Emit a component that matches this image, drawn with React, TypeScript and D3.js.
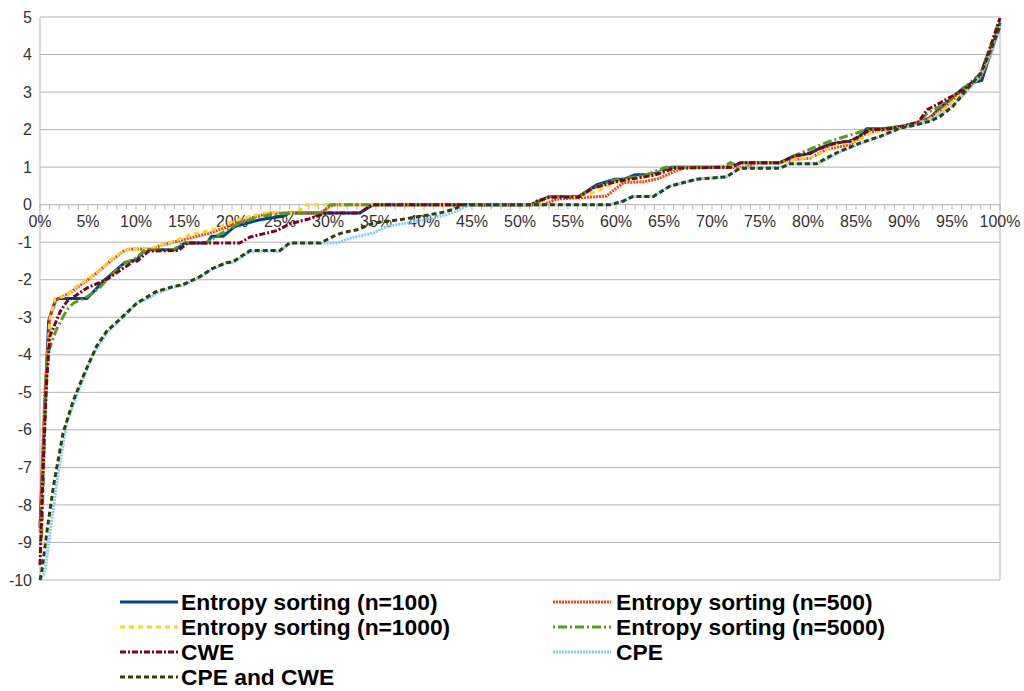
import * as React from "react";
import * as d3 from "d3";

// Percentile (x, %) and score (y)
const entropy100: [number, number][] = [
    [0, -8.6], [0.5, -5.5], [0.9, -3.1], [1.6, -2.55], [1.9, -2.5], [4.9, -2.5], [6.6, -2.04], [8.85, -1.54],
    [10.1, -1.46], [10.9, -1.2], [14.1, -1.2], [15.1, -1.02], [17.4, -1.02], [17.9, -0.84], [19.1, -0.84],
    [20.3, -0.58], [22.9, -0.4], [25.3, -0.31], [26, -0.22], [33.3, -0.22], [34.7, 0], [51.2, 0], [53.1, 0.22],
    [56.1, 0.22], [58, 0.53], [59.9, 0.68], [60.9, 0.68], [62, 0.8], [63.2, 0.8], [64.2, 0.84], [65.8, 1.0],
    [72, 1.0], [73, 1.12], [77.1, 1.12], [78.5, 1.29], [80.2, 1.36], [81.25, 1.51], [82.6, 1.63], [84.4, 1.69],
    [85.4, 1.82], [86.1, 2.02], [87.8, 2.02], [89.9, 2.09], [91.3, 2.18], [92.7, 2.31], [93.75, 2.58],
    [94.8, 2.8], [96.2, 3.11], [97.2, 3.26], [98.1, 3.31], [99, 4.04], [100, 4.85]
];

const entropy500: [number, number][] = [
    [0, -8.7], [0.5, -5.0], [1.04, -2.98], [1.7, -2.53], [3.1, -2.35], [4.5, -2.09], [5.9, -1.82], [7.3, -1.51],
    [8.7, -1.24], [9.4, -1.18], [11.5, -1.18], [12.8, -1.07], [14.2, -0.98], [15.6, -0.89], [17.7, -0.76],
    [19.8, -0.56], [21.9, -0.36], [24, -0.22], [29.2, -0.22], [29.9, -0.09], [30.6, 0], [52.5, 0], [53.8, 0.15],
    [56, 0.18], [59, 0.23], [60.8, 0.59], [62.9, 0.61], [64.5, 0.7], [66, 0.88], [67.4, 1.0], [73.5, 1.0],
    [74.7, 1.12], [77.1, 1.12], [78.5, 1.2], [80.2, 1.24], [81.9, 1.47], [84.4, 1.6], [86.1, 1.91], [88, 2.0],
    [90, 2.08], [92.5, 2.3], [94, 2.55], [96, 3.0], [98, 3.4], [99, 4.0], [100, 4.75]
];

const entropy1000: [number, number][] = [
    [0, -9.3], [0.5, -5.8], [1.0, -3.1], [1.56, -2.49], [2.5, -2.45], [3.8, -2.18], [4.9, -2.0], [6.25, -1.73],
    [7.6, -1.42], [8.85, -1.22], [9.4, -1.18], [11.5, -1.18], [12.8, -1.07], [14.2, -0.95], [15.6, -0.8],
    [18, -0.67], [20.1, -0.44], [21.9, -0.31], [23.6, -0.22], [26.7, -0.22], [27.8, 0], [52, 0], [53.1, 0.2],
    [56.1, 0.2], [58, 0.35], [60, 0.6], [62, 0.7], [64, 0.8], [66, 0.97], [72, 1.0], [73, 1.12], [77.1, 1.12],
    [78.5, 1.2], [80.9, 1.3], [82.6, 1.57], [85.4, 1.73], [86.5, 1.91], [88.5, 2.0], [90, 2.08], [92.5, 2.25],
    [94, 2.5], [96, 2.95], [98, 3.45], [99, 4.1], [100, 4.75]
];

const entropy5000: [number, number][] = [
    [0, -9.0], [0.17, -8.9], [0.7, -4.04], [1.7, -3.33], [2.8, -2.8], [3.5, -2.62], [5, -2.44], [6.25, -2.2],
    [7.3, -1.91], [8.85, -1.55], [10.1, -1.42], [10.9, -1.2], [13.9, -1.2], [14.9, -1.02], [17.4, -1.0],
    [18.4, -0.84], [20.5, -0.53], [22.9, -0.31], [25.7, -0.22], [29.5, -0.22], [30.2, 0], [51.3, 0], [53.1, 0.22],
    [56.1, 0.22], [57.3, 0.4], [59.4, 0.62], [61, 0.7], [63, 0.78], [65.2, 1.0], [71.2, 1.0], [71.9, 1.12],
    [72.5, 1.05], [73, 1.12], [77.1, 1.12], [78.5, 1.3], [80.9, 1.55], [82.3, 1.69], [85.1, 1.91], [86.1, 2.0],
    [88, 2.02], [90, 2.1], [91.5, 2.2], [92.5, 2.45], [94, 2.65], [96, 3.05], [98, 3.5], [99, 4.2], [100, 4.97]
];

const cwe: [number, number][] = [
    [0, -9.6], [0.4, -6.5], [0.7, -4.66], [1.04, -3.5], [2.1, -2.85], [2.8, -2.58], [4.9, -2.22], [6.9, -2.0],
    [9, -1.64], [9.7, -1.51], [10.1, -1.51], [11.3, -1.24], [14.4, -1.22], [15.4, -1.02], [20.8, -1.02],
    [21.9, -0.86], [24.7, -0.69], [26, -0.51], [28, -0.38], [29.9, -0.22], [33.3, -0.22], [34.6, 0], [51.2, 0],
    [51.7, 0.09], [53.1, 0.2], [56.1, 0.2], [57.6, 0.44], [60.1, 0.62], [62, 0.7], [64.2, 0.8], [66, 0.97],
    [72, 1.0], [73, 1.12], [77.1, 1.12], [78.5, 1.29], [80.2, 1.38], [81.5, 1.52], [83, 1.65], [84.5, 1.7],
    [85.5, 1.85], [86.5, 2.0], [88, 2.0], [90, 2.1], [91.5, 2.2], [92.4, 2.53], [93.75, 2.71], [96.2, 3.06],
    [97.9, 3.42], [99, 4.2], [100, 4.97]
];

const cpe: [number, number][] = [
    [0, -10], [0.5, -9.8], [1.04, -8.75], [1.9, -7.15], [2.8, -5.8], [4.2, -4.84], [5.4, -4.04], [6.95, -3.42],
    [8.3, -3.08], [10.1, -2.62], [11.3, -2.5], [12.15, -2.36], [13.9, -2.2], [14.9, -2.15], [16.7, -1.93],
    [18.05, -1.7], [19.4, -1.55], [20.1, -1.55], [21.9, -1.24], [25, -1.24], [26, -1.02], [31, -1.02],
    [32.3, -0.89], [34.7, -0.76], [36.1, -0.58], [38.2, -0.49], [41, -0.36], [43, -0.22], [44.8, 0], [59.4, 0],
    [60.7, 0.09], [61.8, 0.22], [63.9, 0.22], [65.6, 0.49], [68.4, 0.68], [71.5, 0.74], [72.9, 0.97], [77.1, 1.0],
    [78.1, 1.09], [80.9, 1.09], [81.9, 1.2], [83.3, 1.4], [85.4, 1.62], [87.5, 1.8], [89.6, 2.04], [91.3, 2.13],
    [92.7, 2.25], [93.75, 2.4], [95.1, 2.65], [96.5, 3.0], [98, 3.45], [99, 4.0], [100, 4.7]
];

const cpeAndCwe: [number, number][] = [
    [0, -10], [0.17, -9.8], [0.7, -8.75], [1.4, -7.5], [2.4, -6.08], [3.5, -5.2], [4.5, -4.57], [5.9, -3.77],
    [6.95, -3.37], [8.3, -3.06], [10.1, -2.62], [12.15, -2.31], [13.9, -2.18], [14.9, -2.13], [16.7, -1.91],
    [18.05, -1.69], [19.4, -1.55], [20.1, -1.52], [21.9, -1.22], [25, -1.22], [26, -1.02], [29.2, -1.02],
    [30.6, -0.84], [31.6, -0.74], [33, -0.67], [34.7, -0.49], [37.5, -0.4], [39.6, -0.31], [41.7, -0.22],
    [43, -0.13], [44.1, 0], [59.4, 0], [60.7, 0.09], [61.8, 0.22], [63.9, 0.22], [65.6, 0.49], [68.4, 0.68],
    [71.5, 0.74], [72.9, 0.97], [77.1, 0.97], [78.1, 1.09], [80.9, 1.09], [81.9, 1.24], [83.3, 1.42],
    [85.4, 1.64], [87.5, 1.82], [89.6, 2.04], [91.3, 2.13], [92.7, 2.22], [93.75, 2.35], [95.1, 2.62],
    [96.5, 3.06], [98, 3.5], [99, 4.1], [100, 4.75]
];

const seriesNames = [
    "Entropy sorting (n=100)", "Entropy sorting (n=500)", "Entropy sorting (n=1000)",
    "Entropy sorting (n=5000)", "CWE", "CPE", "CPE and CWE"
];
const seriesData = [entropy100, entropy500, entropy1000, entropy5000, cwe, cpe, cpeAndCwe];
const seriesColors = ["#004586", "#ff420e", "#ffd320", "#579d1c", "#7e0021", "#83caff", "#314004"];
const seriesDash = ["", "2,1", "5,4", "2,3,9,3", "6,2,2,2", "2,1", "5,3"];

const yTicks = d3.range(-10, 6, 1);
const xMinorTicks = d3.range(0, 101, 1);
const xLabelTicks = d3.range(0, 101, 5);

export default class App extends React.Component {
    render() {
        let width = 1024;
        let height = 691;

        let x = d3.scaleLinear().domain([0, 100]).range([40, 1000]);
        let y = d3.scaleLinear().domain([-10, 5]).range([580, 17]);

        let line = d3.line<[number, number]>().x(d => x(d[0])).y(d => y(d[1]));

        let gridColor = "#b3b3b3";
        let labelFont = "'Liberation Sans', Arial, sans-serif";

        // legend: two columns, four rows
        let legendRowY = (i: number) => 602 + Math.floor(i / 2) * 25;
        let legendColX = (i: number) => (i % 2 === 0 ? 120 : 553);
        let legendTextGap = (i: number) => (i % 2 === 0 ? 61 : 63);

        return (
            <svg width={width} height={height} style={{ position: "absolute", left: 0, top: 0, background: "#fff" }}>
                {/* horizontal grid */}
                {yTicks.map(t => (
                    <line key={"g" + t} x1={x(0)} x2={x(100)} y1={y(t)} y2={y(t)} stroke={gridColor} strokeWidth={1} />
                ))}
                <line x1={x(0)} x2={x(0)} y1={y(5)} y2={y(-10)} stroke={gridColor} strokeWidth={1} />
                <line x1={x(100)} x2={x(100)} y1={y(5)} y2={y(-10)} stroke={gridColor} strokeWidth={1} />

                {/* x axis sits on zero */}
                {xMinorTicks.map(t => (
                    <line key={"t" + t} x1={x(t)} x2={x(t)} y1={y(0)} y2={y(0) + 5} stroke={gridColor} strokeWidth={1} />
                ))}

                {yTicks.map(t => (
                    <text key={"yl" + t} x={32} y={y(t)} dy="0.35em" textAnchor="end" fontFamily={labelFont}
                        fontSize={16} fill="#333">{t}</text>
                ))}
                {xLabelTicks.map(t => (
                    <text key={"xl" + t} x={x(t)} y={y(0) + 17} dy="0.35em" textAnchor="middle" fontFamily={labelFont}
                        fontSize={16} fill="#333">{t + "%"}</text>
                ))}

                {seriesData.map((s, i) => (
                    <path key={"s" + i} d={line(s) || ""} fill="none" stroke={seriesColors[i]} strokeWidth={3}
                        strokeDasharray={seriesDash[i] || undefined} strokeLinejoin="round" />
                ))}

                {seriesNames.map((name, i) => (
                    <g key={"lg" + i}>
                        <line x1={legendColX(i)} x2={legendColX(i) + 58} y1={legendRowY(i)} y2={legendRowY(i)}
                            stroke={seriesColors[i]} strokeWidth={3} strokeDasharray={seriesDash[i] || undefined} />
                        <text x={legendColX(i) + legendTextGap(i)} y={legendRowY(i)} dy="0.35em" fontFamily={labelFont}
                            fontSize={22.8} fontWeight="bold" fill="#000">{name}</text>
                    </g>
                ))}
            </svg>
        );
    }
}
